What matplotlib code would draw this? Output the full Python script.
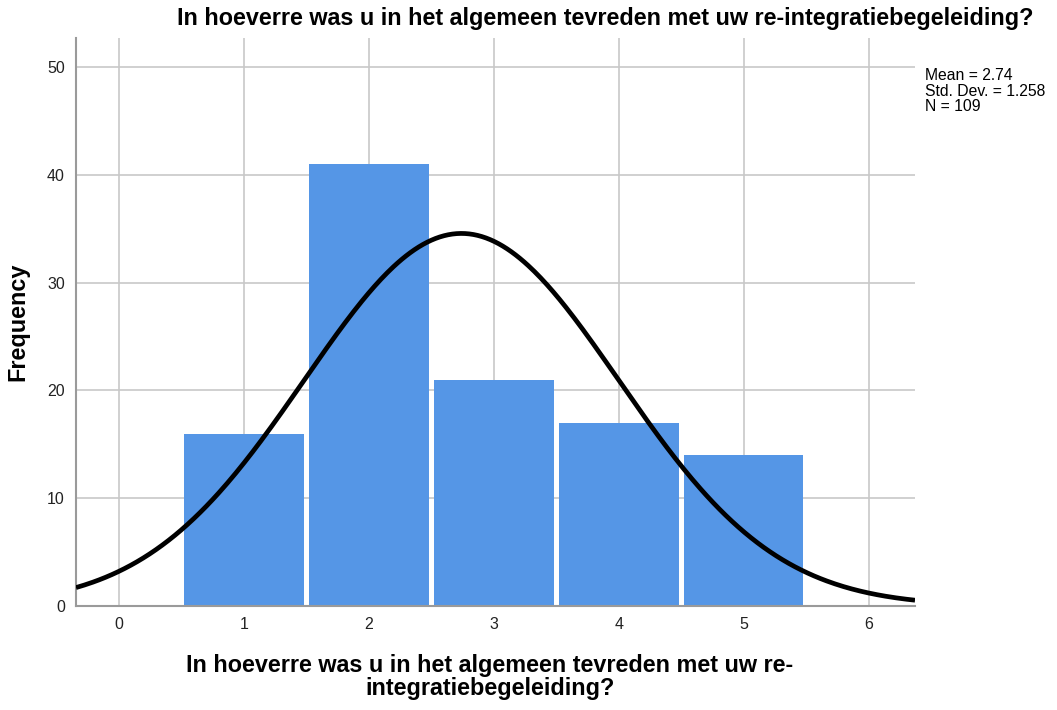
import numpy as np
import matplotlib
matplotlib.use("Agg")
import matplotlib.pyplot as plt

plt.rcParams['font.family'] = ['Liberation Sans', 'DejaVu Sans']

categories = [1, 2, 3, 4, 5]
frequencies = [16, 41, 21, 17, 14]
mean_val = 2.74
std_val = 1.258
n_val = 109
xticks = [0, 1, 2, 3, 4, 5, 6]
yticks = [0, 10, 20, 30, 40, 50]
title = "In hoeverre was u in het algemeen tevreden met uw re-integratiebegeleiding?"
xlabel = "In hoeverre was u in het algemeen tevreden met uw re-\nintegratiebegeleiding?"

fig = plt.figure(figsize=(10.57, 7.10), dpi=100)
ax = fig.add_axes([76/1057, 1-606/710, (915-76)/1057, (606-38)/710])

ax.set_xlim(-0.345, 6.37)
ax.set_ylim(0, 52.7)
ax.set_axisbelow(True)
ax.grid(True, color='#c8c8c8', linewidth=1.2)

ax.bar(categories, frequencies, width=0.955, color='#5596e6', edgecolor='none', zorder=2)

xs = np.linspace(-0.345, 6.37, 400)
pdf = n_val * 1.0 / (std_val * np.sqrt(2*np.pi)) * np.exp(-0.5*((xs-mean_val)/std_val)**2)
ax.plot(xs, pdf, color='black', linewidth=3.4, zorder=3, solid_capstyle='butt')

ax.set_xticks(xticks)
ax.set_yticks(yticks)
ax.tick_params(length=0, labelsize=11.5, colors='#222222', pad=8)
for s in ['top', 'right']:
    ax.spines[s].set_visible(False)
for s in ['left', 'bottom']:
    ax.spines[s].set_color('#9a9a9a')
    ax.spines[s].set_linewidth(1.5)

fig.text(18/1057, 1-322/710, "Frequency", ha='center', va='center', rotation=90, fontsize=16.8, fontweight='bold')
fig.text(490/1057, 1-677/710, xlabel, ha='center', va='center', fontsize=16.8, fontweight='bold', linespacing=1.0)
fig.text(605/1057, 1-18/710, title, ha='center', va='center', fontsize=16.8, fontweight='bold')
fig.text(925/1057, 1-68/710, f"Mean = {mean_val:.2f}\nStd. Dev. = {std_val:.3f}\nN = {n_val}",
         ha='left', va='top', fontsize=11.3, linespacing=1.05)

fig.savefig("out.png", dpi=100)
